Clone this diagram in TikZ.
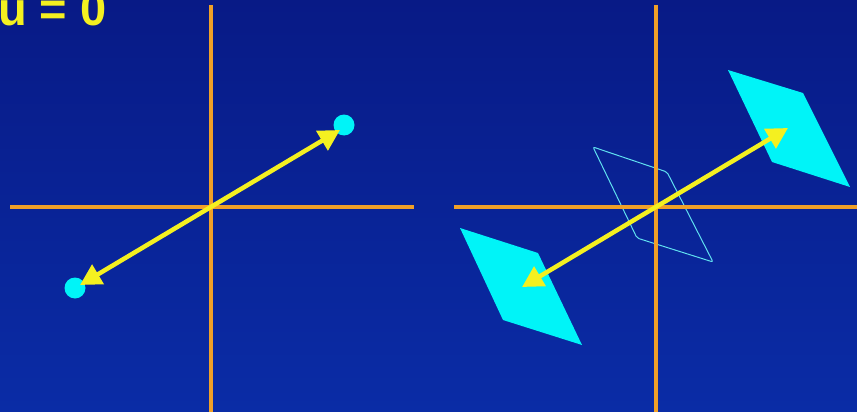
\documentclass[tikz,border=0pt]{standalone}
\usepackage{fontspec}
\setmainfont{Liberation Sans}
\usetikzlibrary{arrows.meta}
\definecolor{bgtop}{HTML}{081A86}
\definecolor{bgbot}{HTML}{0A2CA6}
\definecolor{axisc}{HTML}{F0A028}
\definecolor{yel}{HTML}{F4F020}
\definecolor{cy}{HTML}{00F4F8}
\definecolor{cyo}{HTML}{60E0F0}
\tikzset{
  axisline/.style={draw=axisc,line width=3.2pt},
  vecarrow/.style={draw=yel,line width=4.5pt,{Triangle[length=21pt,width=22pt]}-{Triangle[length=21pt,width=22pt]}},
  dot/.style={circle,fill=cy,inner sep=0pt,minimum size=21pt},
  plate/.style={fill=cy},
  ghost/.style={draw=cyo,line width=1pt,rounded corners=2pt}
}
\begin{document}
\begin{tikzpicture}[x=1pt,y=-1pt]
\useasboundingbox (0,0) rectangle (857,412);
\shade[top color=bgtop,bottom color=bgbot] (0,0) rectangle (857,412);
% title
\node[anchor=base west,inner sep=0pt,text=yel,font=\bfseries\fontsize{47}{47}\selectfont] (title) at (-2,26) {u = 0};
% left axes
\coordinate (l1) at (10,207); \coordinate (l2) at (414,207);
\coordinate (l3) at (211,5); \coordinate (l4) at (211,412);
\draw[axisline] (l1) -- (l2);
\draw[axisline] (l3) -- (l4);
% left dots
\node[dot] (dA) at (344,125) {};
\node[dot] (dB) at (75,288) {};
\coordinate (tA) at (340,130);
\coordinate (tB) at (80,285);
\draw[vecarrow] (tB) -- (tA);
% right axes
\coordinate (r1) at (454,207); \coordinate (r2) at (857,207);
\coordinate (r3) at (656,5); \coordinate (r4) at (656,412);
% ghost plate
\draw[ghost] (593,147) -- (667,172) -- (713,262) -- (637,238) -- cycle;
\draw[axisline] (r1) -- (r2);
\draw[axisline] (r3) -- (r4);
% plates
\fill[plate] (728,70) -- (803,93) -- (850,187) -- (772,162) -- cycle;
\fill[plate] (460,228) -- (538,253) -- (582,345) -- (503,320) -- cycle;
\coordinate (tC) at (788,128);
\coordinate (tD) at (522,287);
\draw[vecarrow] (tD) -- (tC);
\end{tikzpicture}
\end{document}
